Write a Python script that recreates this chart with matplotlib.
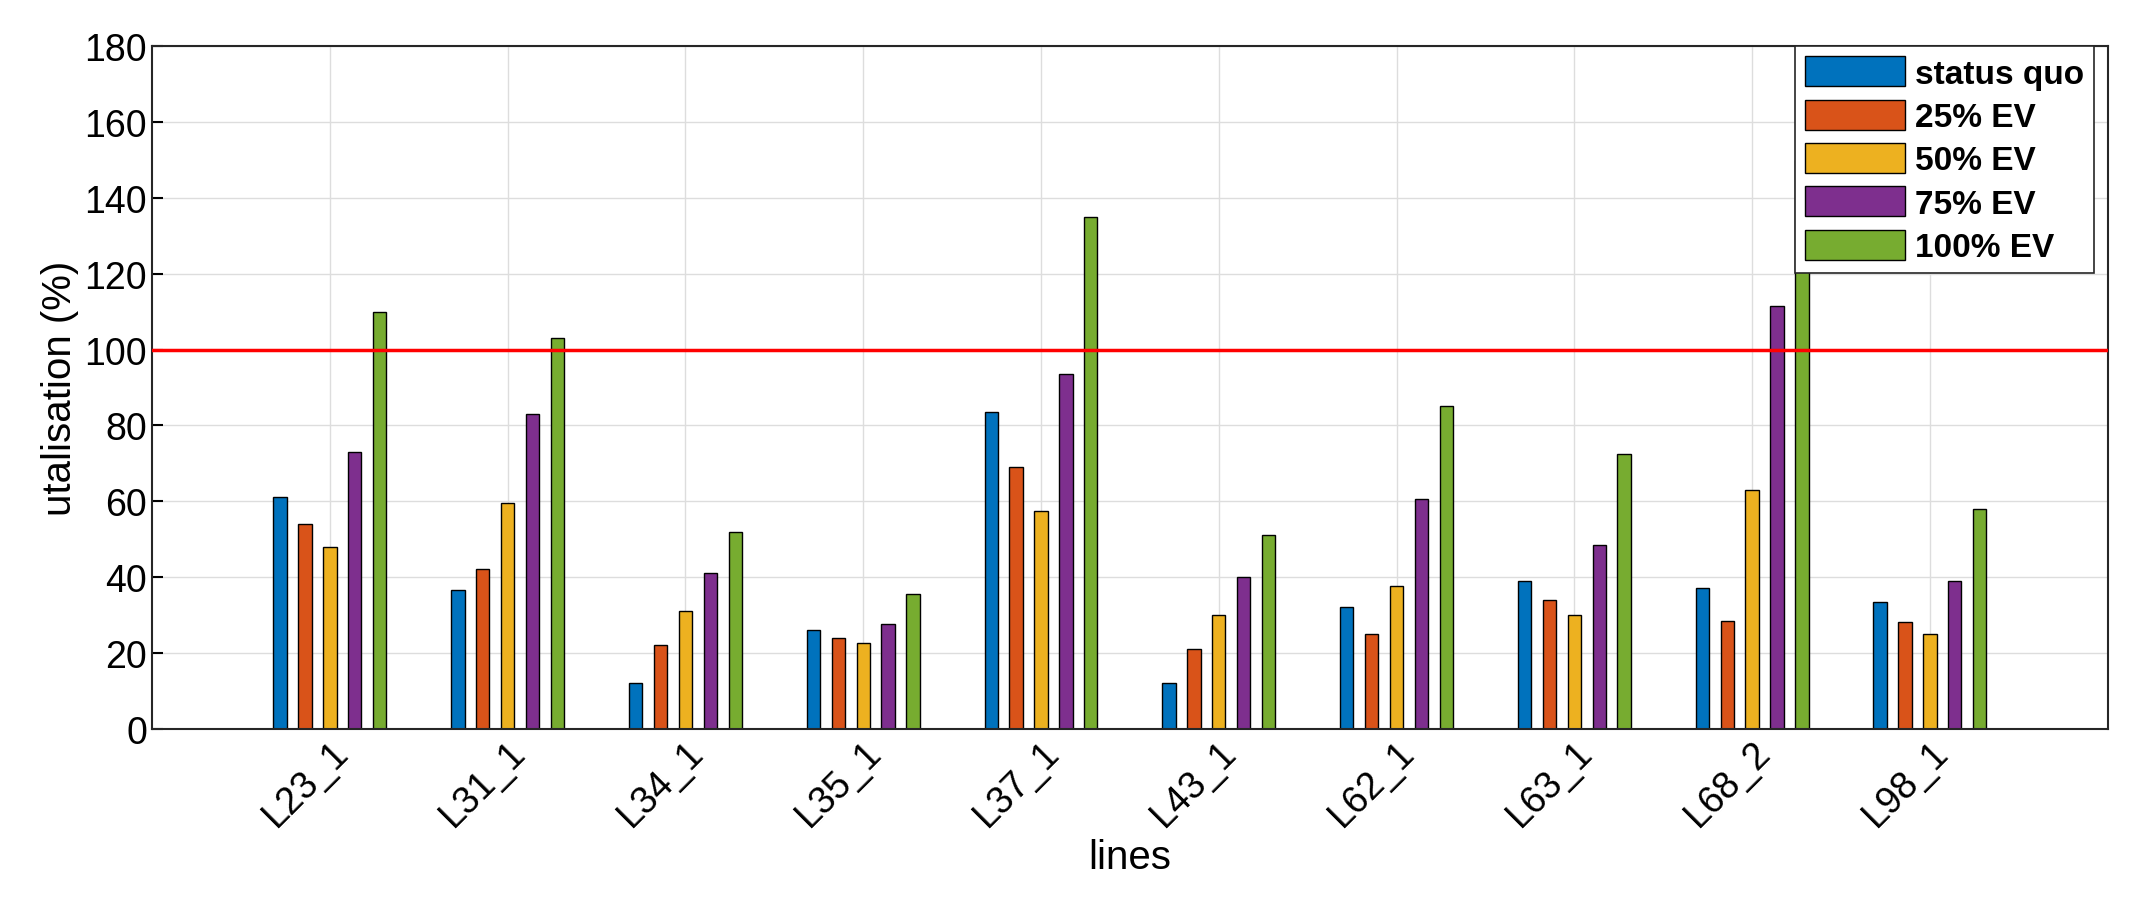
import numpy as np
import matplotlib.pyplot as plt

plt.rcParams['font.family'] = ['Liberation Sans', 'DejaVu Sans']

lines = ['L23_1', 'L31_1', 'L34_1', 'L35_1', 'L37_1', 'L43_1', 'L62_1', 'L63_1', 'L68_2', 'L98_1']
status_quo = [61, 36.5, 12, 26, 83.5, 12, 32, 39, 37, 33.5]
ev25 = [54, 42, 22, 24, 69, 21, 25, 34, 28.5, 28]
ev50 = [48, 59.5, 31, 22.5, 57.5, 30, 37.5, 30, 63, 25]
ev75 = [73, 83, 41, 27.5, 93.5, 40, 60.5, 48.5, 111.5, 39]
ev100 = [110, 103, 52, 35.5, 135, 51, 85, 72.5, 150, 58]  # L68_2 hidden by legend, estimated

series = [status_quo, ev25, ev50, ev75, ev100]
names = ['status quo', '25% EV', '50% EV', '75% EV', '100% EV']
colors = ['#0072BD', '#D95319', '#EDB120', '#7E2F8E', '#77AC30']

fig = plt.figure(figsize=(21.42, 9.12), dpi=100)
ax = fig.add_axes([0.071, 0.2, 0.913, 0.748])
x = np.arange(1, len(lines) + 1)
for i, (vals, nm, c) in enumerate(zip(series, names, colors)):
    ax.bar(x + (i - 2) * 0.14, vals, width=0.075, color=c, edgecolor='black', linewidth=1, label=nm, zorder=2)
ax.axhline(100, color='red', linewidth=2.5, zorder=3)

ax.set_xlim(0, 11)
ax.set_ylim(0, 180)
ax.set_yticks(range(0, 181, 20))
ax.set_xticks(x)
ax.set_xticklabels(lines, rotation=45, ha='right', rotation_mode='anchor')
ax.tick_params(labelsize=27, direction='in', length=8, width=1.5)
ax.grid(True, color='#dddddd', linewidth=1, zorder=0)
for s in ax.spines.values():
    s.set_linewidth(1.5)
    s.set_color('#262626')
ax.set_xlabel('lines', fontsize=29)
ax.set_ylabel('utalisation (%)', fontsize=29)
leg = ax.legend(loc='upper right', bbox_to_anchor=(0.993, 1.0), fancybox=False, edgecolor='#262626',
                framealpha=1, prop={'size': 24, 'weight': 'bold'}, handlelength=3.0, handleheight=1.0,
                labelspacing=0.3, handletextpad=0.3, borderpad=0.3, borderaxespad=0)
leg.set_zorder(5)
leg.get_frame().set_linewidth(1.2)
fig.savefig('out.png', dpi=100)
